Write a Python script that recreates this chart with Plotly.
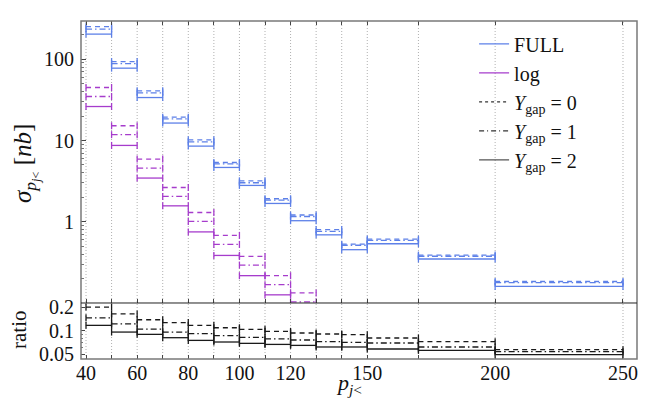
import plotly.graph_objects as go

# ---------------- data ----------------
edges = [40, 50, 60, 70, 80, 90, 100, 110, 120, 130, 140, 150, 170, 200, 250]

full_y0 = [252, 93.7, 40.9, 19.4, 10.2, 5.36, 3.19, 1.92, 1.21, 0.80, 0.53, 0.612, 0.389, 0.184]
full_y1 = [235, 88.5, 38.6, 18.5, 9.64, 5.17, 3.02, 1.85, 1.16, 0.76, 0.514, 0.59, 0.376, 0.178]
full_y2 = [204, 77.7, 33.8, 16.4, 8.53, 4.66, 2.80, 1.68, 1.03, 0.69, 0.453, 0.536, 0.348, 0.160]

log_y0 = [44.9, 15.2, 5.9, 2.64, 1.30, 0.68, 0.374, 0.217, 0.133]
log_y1 = [34.8, 11.8, 4.57, 2.05, 1.01, 0.526, 0.293, 0.168, 0.103]
log_y2 = [26.2, 8.7, 3.45, 1.57, 0.75, 0.385, 0.217, 0.126, None]

ratio_y0 = [0.201, 0.164, 0.138, 0.127, 0.117, 0.109, 0.104, 0.098, 0.0934, 0.0907, 0.0889, 0.0806, 0.0722, 0.057]
ratio_y1 = [0.146, 0.122, 0.105, 0.096, 0.0915, 0.0863, 0.0821, 0.0783, 0.0760, 0.0722, 0.0708, 0.0695, 0.0618, 0.0538]
ratio_y2 = [0.117, 0.096, 0.0897, 0.0813, 0.0751, 0.0716, 0.0688, 0.0667, 0.0648, 0.0618, 0.0618, 0.0582, 0.0559, 0.0492]

x_tick_vals = [40, 60, 80, 100, 120, 150, 200, 250]
y_tick_vals = [1, 10, 100]
ratio_tick_vals = [0.05, 0.1, 0.2]

# ---------------- style ----------------
FONT = "Liberation Serif"
BLUE = "#5d80e8"
PURPLE = "#a63ccc"
BLACK = "#1a1a1a"
DASH0 = "5px,4px"
DASH1 = "6px,3px,1.5px,3px"
DASH2 = "solid"


def steps(vals):
    xs, ys = [], []
    for i, v in enumerate(vals):
        if v is None:
            continue
        xs += [edges[i], edges[i + 1], None]
        ys += [v, v, None]
    return xs, ys


fig = go.Figure()


def add_series(vals, color, dash, xa, ya):
    xs, ys = steps(vals)
    fig.add_trace(go.Scatter(
        x=xs, y=ys, mode="lines+markers", xaxis=xa, yaxis=ya,
        line=dict(color=color, width=1.3, dash=dash),
        marker=dict(symbol="line-ns", size=5, line=dict(color=color, width=1.3)),
        showlegend=False, hoverinfo="skip"))


for vals, d in [(full_y0, DASH0), (full_y1, DASH1), (full_y2, DASH2)]:
    add_series(vals, BLUE, d, "x", "y")
for vals, d in [(log_y0, DASH0), (log_y1, DASH1), (log_y2, DASH2)]:
    add_series(vals, PURPLE, d, "x", "y")
for vals, d in [(ratio_y0, DASH0), (ratio_y1, DASH1), (ratio_y2, DASH2)]:
    add_series(vals, BLACK, d, "x2", "y2")

# legend entries
legend_items = [
    ("FULL", BLUE, "solid"),
    ("log", PURPLE, "solid"),
    ("<i>Y</i><sub>gap</sub> = 0", "#333", "3px,3px"),
    ("<i>Y</i><sub>gap</sub> = 1", "#333", "5px,3px,1px,3px"),
    ("<i>Y</i><sub>gap</sub> = 2", "#555", "solid"),
]
for name, c, d in legend_items:
    fig.add_trace(go.Scatter(x=[None], y=[None], mode="lines", name=name,
                             line=dict(color=c, width=1.3, dash=d),
                             xaxis="x", yaxis="y"))

# vertical dotted grid lines at bin edges
for e in edges:
    fig.add_shape(type="line", xref="x", yref="paper", x0=e, x1=e, y0=0, y1=1,
                  line=dict(color="#b0b0b0", width=1, dash="1px,2px"), layer="below")

RDOM = 0.1657
tickfont = dict(family=FONT, size=20, color="#111")
minor_edges = [e for e in edges if e not in x_tick_vals]

fig.update_layout(
    template="none",
    width=656, height=391,
    margin=dict(l=73, r=27, t=13, b=40, autoexpand=False),
    plot_bgcolor="white", paper_bgcolor="white",
    font=dict(family=FONT, size=20, color="#111"),
    showlegend=True,
    legend=dict(x=0.707, y=0.99, xanchor="left", yanchor="top",
                bgcolor="rgba(0,0,0,0)", font=dict(family=FONT, size=20),
                tracegroupgap=0, itemwidth=30, borderwidth=0),
    xaxis=dict(domain=[0, 1], anchor="y", range=[38.04, 255.48], automargin=False,
               tickvals=edges, showticklabels=False, ticks="inside", ticklen=4,
               tickcolor="#444", showgrid=False, zeroline=False,
               showline=False, mirror="ticks"),
    yaxis=dict(domain=[RDOM, 1], anchor="x", type="log", range=[-1.0, 2.471],
               automargin=False,
               tickvals=y_tick_vals, ticktext=["1", "10", "100"],
               ticks="inside", ticklen=5, tickcolor="#444", tickfont=tickfont,
               ticklabelstandoff=6,
               minor=dict(tickvals=[0.2, 0.3, 0.4, 0.5, 0.6, 0.7, 0.8, 0.9,
                                    2, 3, 4, 5, 6, 7, 8, 9,
                                    20, 30, 40, 50, 60, 70, 80, 90, 200],
                          ticks="inside", ticklen=3, tickcolor="#777", showgrid=False),
               showgrid=False, zeroline=False, showline=False),
    xaxis2=dict(domain=[0, 1], anchor="y2", range=[38.04, 255.48], automargin=False,
                tickvals=x_tick_vals, ticktext=[str(v) for v in x_tick_vals],
                ticks="inside", ticklen=4, tickcolor="#444", tickfont=tickfont,
                minor=dict(tickvals=minor_edges, ticks="inside", ticklen=4,
                           tickcolor="#444", showgrid=False),
                showgrid=False, zeroline=False, showline=False),
    yaxis2=dict(domain=[0, RDOM], anchor="x2", type="log", range=[-1.363, -0.645],
                automargin=False,
                tickvals=ratio_tick_vals, ticktext=["0.05", "0.1", "0.2"],
                ticks="inside", ticklen=4, tickcolor="#444", tickfont=tickfont,
                ticklabelstandoff=6,
                minor=dict(tickvals=[0.06, 0.07, 0.08, 0.09], ticks="inside",
                           ticklen=2, tickcolor="#777", showgrid=False),
                showgrid=False, zeroline=False, showline=False),
)

# frame: outer box in gray, separator between panels in black
fig.add_shape(type="rect", xref="paper", yref="paper", x0=0, x1=1, y0=0, y1=1,
              line=dict(color="#7a7a7a", width=1.5))
fig.add_shape(type="line", xref="paper", yref="paper", x0=0, x1=1, y0=RDOM, y1=RDOM,
              line=dict(color="#222", width=1))

# axis titles as annotations (positions measured in page pixels)
fig.add_annotation(xref="paper", yref="paper", x=(26 - 81) / 556, y=(359 - 164) / 338,
                   text="<i>σ</i><sub><i>p</i><sub><i>j</i>&lt;</sub></sub> [<i>nb</i>]",
                   textangle=-90, showarrow=False, xanchor="center", yanchor="middle",
                   font=dict(family=FONT, size=25))
fig.add_annotation(xref="paper", yref="paper", x=(19 - 81) / 556, y=(359 - 330) / 338,
                   text="ratio", textangle=-90, showarrow=False,
                   xanchor="center", yanchor="middle", font=dict(family=FONT, size=21))
fig.add_annotation(xref="paper", yref="paper", x=(349 - 81) / 556, y=(359 - 384) / 338,
                   text="<i>p</i><sub><i>j</i>&lt;</sub>", showarrow=False,
                   xanchor="center", yanchor="middle", font=dict(family=FONT, size=22))

fig.write_html("out.html")
